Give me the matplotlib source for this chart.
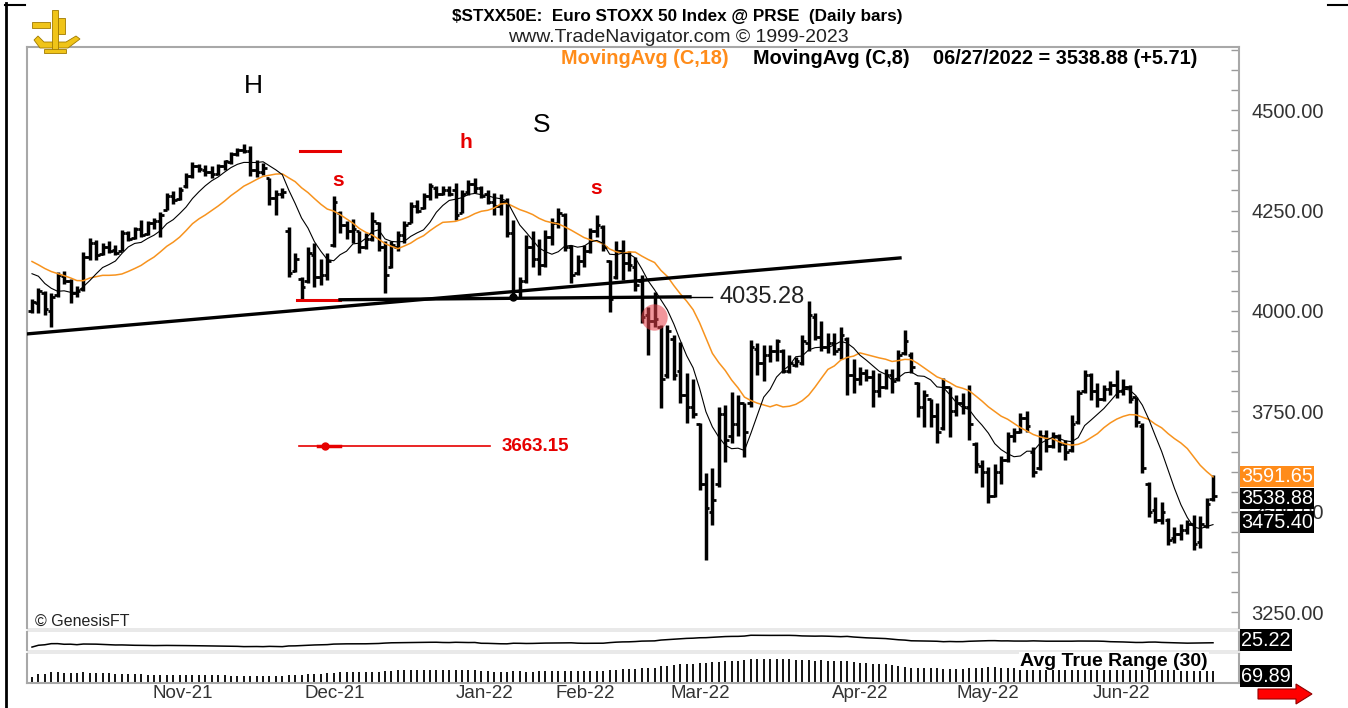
import matplotlib.pyplot as plt
import numpy as np
import pandas as pd
from matplotlib.lines import Line2D
from matplotlib.patches import Rectangle, FancyArrow, Polygon
from matplotlib.ticker import MultipleLocator, FixedLocator

plt.rcParams['font.family'] = ['Liberation Sans', 'DejaVu Sans']

# closes before the first visible bar, only used to seed the averages
warmup_close = [4200, 4170, 4170, 4180, 4170, 4145, 4170, 4140, 4050, 4080,
                4100, 4150, 4130, 4150, 4065, 4075, 4050]

opens = [4000, 4020, 4045, 4000, 4040, 4088, 4075, 4045, 4055, 4135,
         4170, 4142, 4160, 4152, 4150, 4195, 4182, 4205, 4192, 4218,
         4225, 4252, 4285, 4278, 4310, 4335, 4360, 4350, 4345, 4342,
         4360, 4370, 4390, 4400, 4398, 4350, 4345, 4330, 4280, 4290,
         4200, 4100, 4080, 4075, 4140, 4085, 4090, 4165, 4245, 4215,
         4200, 4200, 4160, 4180, 4220, 4160, 4110, 4160, 4190, 4220,
         4260, 4255, 4285, 4305, 4290, 4300, 4300, 4245, 4295, 4315,
         4305, 4290, 4270, 4262, 4270, 4195, 4050, 4075, 4160, 4130,
         4115, 4185, 4220, 4240, 4160, 4095, 4125, 4150, 4200, 4210,
         4125, 4085, 4150, 4120, 4110, 4075, 3990, 3975, 3960, 3840,
         3930, 3850, 3790, 3760, 3720, 3570, 3500, 3570, 3745, 3690,
         3720, 3770, 3770, 3905, 3870, 3890, 3900, 3900, 3850, 3865,
         3870, 3920, 3985, 3935, 3910, 3920, 3905, 3930, 3840, 3830,
         3845, 3835, 3800, 3810, 3840, 3830, 3895, 3890, 3820, 3760,
         3780, 3740, 3710, 3810, 3750, 3770, 3760, 3670, 3615, 3600,
         3540, 3600, 3630, 3690, 3700, 3735, 3650, 3610, 3690, 3665,
         3690, 3670, 3655, 3725, 3800, 3840, 3800, 3780, 3805, 3815,
         3800, 3810, 3785, 3715, 3570, 3505, 3480, 3480, 3435, 3445,
         3455, 3470, 3425, 3465, 3533]
highs = [4030, 4057, 4050, 4045, 4097, 4100, 4080, 4062, 4147, 4182,
         4177, 4170, 4175, 4165, 4201, 4200, 4210, 4226, 4225, 4232,
         4246, 4294, 4298, 4308, 4343, 4371, 4366, 4362, 4360, 4366,
         4376, 4395, 4405, 4415, 4410, 4375, 4368, 4331, 4301, 4305,
         4209, 4145, 4085, 4160, 4170, 4130, 4144, 4285, 4250, 4225,
         4230, 4200, 4195, 4246, 4222, 4175, 4175, 4200, 4225, 4270,
         4275, 4294, 4318, 4310, 4310, 4310, 4318, 4300, 4326, 4331,
         4310, 4300, 4294, 4290, 4281, 4226, 4085, 4190, 4200, 4180,
         4201, 4231, 4256, 4245, 4164, 4140, 4165, 4206, 4239, 4215,
         4127, 4175, 4177, 4150, 4135, 4090, 4010, 4047, 3965, 3965,
         3940, 3923, 3846, 3830, 3721, 3597, 3609, 3761, 3766, 3798,
         3790, 3772, 3928, 3920, 3915, 3915, 3930, 3905, 3890, 3885,
         3940, 4025, 3995, 3975, 3945, 3945, 3960, 3935, 3880, 3860,
         3855, 3853, 3846, 3855, 3855, 3903, 3953, 3898, 3823, 3803,
         3782, 3771, 3833, 3812, 3790, 3795, 3816, 3674, 3629, 3612,
         3620, 3640, 3699, 3710, 3746, 3750, 3662, 3704, 3705, 3700,
         3695, 3680, 3741, 3803, 3853, 3845, 3820, 3815, 3825, 3853,
         3830, 3815, 3786, 3721, 3575, 3537, 3525, 3485, 3463, 3470,
         3480, 3493, 3490, 3535, 3592]
lows = [3995, 3995, 3990, 3960, 4035, 4068, 4020, 4035, 4050, 4127,
        4127, 4140, 4145, 4140, 4150, 4175, 4180, 4185, 4190, 4205,
        4184, 4251, 4265, 4275, 4305, 4331, 4345, 4335, 4330, 4338,
        4351, 4365, 4385, 4392, 4335, 4333, 4338, 4264, 4239, 4280,
        4085, 4098, 4030, 4070, 4060, 4065, 4077, 4160, 4195, 4180,
        4170, 4145, 4155, 4175, 4150, 4045, 4108, 4150, 4170, 4218,
        4245, 4253, 4276, 4280, 4288, 4285, 4226, 4243, 4289, 4294,
        4280, 4265, 4239, 4240, 4184, 4030, 4032, 4070, 4110, 4090,
        4110, 4164, 4206, 4150, 4070, 4090, 4110, 4144, 4184, 4150,
        3998, 4080, 4077, 4100, 4050, 3970, 3890, 3960, 3758, 3833,
        3828, 3771, 3721, 3735, 3555, 3381, 3468, 3562, 3624, 3672,
        3690, 3637, 3761, 3841, 3825, 3873, 3875, 3846, 3845, 3860,
        3865, 3900, 3928, 3900, 3895, 3890, 3880, 3791, 3796, 3815,
        3825, 3761, 3786, 3805, 3795, 3825, 3890, 3846, 3736, 3711,
        3711, 3672, 3705, 3687, 3740, 3745, 3679, 3597, 3562, 3522,
        3538, 3570, 3625, 3675, 3697, 3700, 3587, 3605, 3650, 3660,
        3650, 3629, 3650, 3720, 3795, 3779, 3760, 3775, 3790, 3784,
        3790, 3770, 3711, 3597, 3487, 3473, 3470, 3418, 3423, 3430,
        3445, 3405, 3410, 3460, 3527]
closes = [4022, 4050, 4005, 4035, 4090, 4075, 4045, 4050, 4135, 4170,
          4140, 4160, 4150, 4145, 4195, 4180, 4205, 4190, 4218, 4225,
          4240, 4285, 4275, 4300, 4335, 4360, 4352, 4345, 4340, 4360,
          4372, 4390, 4400, 4398, 4350, 4345, 4355, 4280, 4290, 4295,
          4095, 4130, 4060, 4145, 4085, 4090, 4125, 4270, 4215, 4200,
          4205, 4160, 4180, 4225, 4160, 4090, 4165, 4190, 4215, 4260,
          4250, 4285, 4310, 4290, 4300, 4290, 4240, 4290, 4315, 4305,
          4285, 4270, 4260, 4270, 4195, 4050, 4075, 4160, 4130, 4115,
          4185, 4220, 4245, 4160, 4090, 4125, 4150, 4200, 4215, 4160,
          4030, 4150, 4120, 4115, 4065, 3985, 3975, 3980, 3830, 3950,
          3840, 3790, 3760, 3745, 3570, 3510, 3530, 3745, 3680, 3720,
          3770, 3700, 3910, 3870, 3890, 3900, 3925, 3850, 3870, 3875,
          3925, 3990, 3935, 3910, 3920, 3900, 3940, 3840, 3830, 3845,
          3835, 3800, 3810, 3840, 3825, 3890, 3925, 3860, 3760, 3790,
          3740, 3700, 3810, 3750, 3770, 3760, 3720, 3620, 3600, 3540,
          3600, 3630, 3690, 3700, 3735, 3715, 3600, 3690, 3665, 3690,
          3670, 3650, 3720, 3795, 3840, 3800, 3780, 3805, 3815, 3800,
          3810, 3780, 3725, 3610, 3500, 3480, 3500, 3430, 3445, 3455,
          3470, 3420, 3470, 3520, 3538.88]

month_labels = ['Nov-21', 'Dec-21', 'Jan-22', 'Feb-22', 'Mar-22', 'Apr-22', 'May-22', 'Jun-22']
price_ticks = [3250, 3500, 3750, 4000, 4250, 4500]

W, H = 1348, 708
n = len(closes)
x = np.arange(n)

# moving averages and ATR from the bars
c_all = pd.Series(warmup_close + closes)
ma18 = c_all.rolling(18).mean().values[len(warmup_close):]
ma8 = c_all.rolling(8).mean().values[len(warmup_close):]
hi = pd.Series(highs); lo = pd.Series(lows); cl = pd.Series(closes)
pc = cl.shift(1).fillna(cl.iloc[0])
tr = pd.concat([hi - lo, (hi - pc).abs(), (lo - pc).abs()], axis=1).max(axis=1)
atr = tr.rolling(30, min_periods=1).mean().values

# pixel helpers (pixels from top-left of the picture)
x0px, x1px = 32, 1213
sp = (x1px - x0px) / (n - 1)
def px2i(px):
    return (px - x0px) / sp

def py2p(py):
    return 4500 - (py - 110) * 250 / 100.5

def box(l, t, r, b):
    return [l / W, 1 - b / H, (r - l) / W, (b - t) / H]

def ftext(px, py, s, **kw):
    return fig.text(px / W, 1 - py / H, s, **kw)

fig = plt.figure(figsize=(W / 100, H / 100), dpi=100)
fig.patch.set_facecolor('white')

ax = fig.add_axes(box(27, 47, 1239, 628))
axl = fig.add_axes(box(27, 632, 1239, 650))
axc = fig.add_axes(box(27, 654, 1239, 683))
xlim = (px2i(27), px2i(1239))

# price bars
ax.vlines(x, lows, highs, color='black', lw=2.5, zorder=3)
ax.hlines(opens, x - 0.55, x, color='black', lw=2.0, zorder=3)
ax.hlines(closes, x, x + 0.55, color='black', lw=2.0, zorder=3)
ax.plot(x, ma18, color='#f7931e', lw=1.1, zorder=4)
ax.plot(x, ma8, color='black', lw=0.8, zorder=4)

# drawings
ax.plot([px2i(27), px2i(900)], [3943, 4132], color='black', lw=2.4, zorder=5)
ax.plot([px2i(297), px2i(340)], [4027, 4027], color='#e60000', lw=2.2, zorder=5)
ax.plot([px2i(340), px2i(690)], [4028, 4035.28], color='black', lw=2.4, zorder=5)
ax.plot([px2i(690), px2i(712)], [4035.28, 4035.28], color='black', lw=1.0, zorder=5)
ax.plot([75], [4035], 'o', color='black', ms=5, zorder=6)
ax.text(px2i(720), 4035.28, '4035.28', fontsize=17, color='#222222', va='center', ha='left')
ax.plot([px2i(654)], [3985], 'o', color='#e8404a', alpha=0.55, ms=19, mec='none', zorder=6)
ax.plot([px2i(299), px2i(490)], [3663.15, 3663.15], color='#e60000', lw=1.2, zorder=5)
ax.plot([px2i(318), px2i(340)], [3663.15, 3663.15], color='#e60000', lw=2.5, zorder=5)
ax.plot([px2i(325)], [3663.15], 'o', color='#e60000', ms=5, zorder=6)
ax.text(px2i(502), 3663.15, '3663.15', fontsize=13.5, fontweight='bold', color='#e60000',
        va='center', ha='left')
ax.plot([px2i(300), px2i(340)], [4398, 4398], color='#e60000', lw=2.2, zorder=5)
ax.text(px2i(253), py2p(86), 'H', fontsize=19, ha='center', va='center', color='black')
ax.text(px2i(542), py2p(125), 'S', fontsize=19, ha='center', va='center', color='black')
ax.text(px2i(466), py2p(143), 'h', fontsize=15, fontweight='bold',
        color='#e60000', ha='center', va='center')
ax.text(px2i(338), py2p(181), 's', fontsize=15, fontweight='bold',
        color='#e60000', ha='center', va='center')
ax.text(px2i(596), py2p(189), 's', fontsize=15, fontweight='bold',
        color='#e60000', ha='center', va='center')
ax.text(px2i(35), py2p(621), '© GenesisFT', fontsize=11.5,
        ha='left', va='center', color='#222222')

ax.set_xlim(*xlim)
ax.set_ylim(py2p(628), py2p(47))
ax.set_xticks([])
ax.yaxis.set_major_locator(FixedLocator(price_ticks))
ax.yaxis.set_minor_locator(MultipleLocator(50))
ax.set_yticklabels(['%.2f' % v for v in price_ticks])
ax.tick_params(axis='y', which='both', direction='in', length=6, width=1, color='#9a9a9a',
               left=False, right=True, labelleft=False, labelright=True, pad=9,
               labelsize=14.5, labelcolor='#333333')
for s in ['top', 'left', 'right']:
    ax.spines[s].set_color('#a8a8a8')
    ax.spines[s].set_linewidth(1.5)
ax.spines['bottom'].set_visible(False)

# line panel
axl.plot(x, atr, color='black', lw=1.1)
axl.set_xlim(*xlim)
axl.set_ylim(13, 148)
axl.set_xticks([]); axl.set_yticks([])
for s in ['top', 'bottom']:
    axl.spines[s].set_visible(False)
for s in ['left', 'right']:
    axl.spines[s].set_color('#a8a8a8'); axl.spines[s].set_linewidth(1.5)

# ATR comb panel
axc.vlines(x, 0, atr, color='black', lw=1.3)
axc.set_xlim(*xlim)
axc.set_ylim(5, 150)
axc.set_yticks([])
axc.set_xticks([])
axc.spines['top'].set_visible(False)
for s in ['left', 'right', 'bottom']:
    axc.spines[s].set_color('#a8a8a8'); axc.spines[s].set_linewidth(1.5)
ftext(1208, 661, 'Avg True Range (30)', fontsize=14, fontweight='bold', ha='right', va='center',
      bbox=dict(boxstyle='square,pad=0.05', fc='white', ec='none'))

# separator bands
for t, b in [(628, 632), (650, 654)]:
    fig.add_artist(Rectangle((27 / W, 1 - b / H), 1212 / W, (b - t) / H,
                             transform=fig.transFigure, color='#e9e9e9', zorder=0))

# month labels
month_px = [183, 335, 485, 585, 700, 860, 988, 1122]
for lab, p in zip(month_labels, month_px):
    ftext(p, 694, lab, fontsize=13.5, ha='center', va='center', color='#333333')

# header
ftext(677, 17, '$STXX50E:  Euro STOXX 50 Index @ PRSE  (Daily bars)', fontsize=12.3,
      fontweight='bold', ha='center', va='center')
ftext(678, 38, 'www.TradeNavigator.com © 1999-2023', fontsize=14, ha='center', va='center',
      color='#222222')
ftext(561, 58, 'MovingAvg (C,18)', fontsize=14.3, fontweight='bold', color='#ff8c1a',
      ha='left', va='center')
ftext(753, 58, 'MovingAvg (C,8)', fontsize=14.3, fontweight='bold', ha='left', va='center')
ftext(933, 58, '06/27/2022 = 3538.88 (+5.71)', fontsize=14.3, fontweight='bold',
      ha='left', va='center')

# value boxes on the right
for py, s, fc in [(476.5, '3591.65', '#ff8c1a'), (498.5, '3538.88', 'black'),
                  (522, '3475.40', 'black'), (640, '25.22', 'black'), (676, '69.89', 'black')]:
    ftext(1241, py, s, fontsize=14.3, color='white', ha='left', va='center',
          bbox=dict(boxstyle='square,pad=0.06', fc=fc, ec='none'))

# red arrow
fig.add_artist(FancyArrow(1258 / W, 1 - 694 / H, 38 / W, 0, width=10 / H, head_width=20 / H,
                          head_length=16 / W, length_includes_head=False,
                          transform=fig.transFigure, color='#ff0000', ec='#900000', lw=0.8))

# frame lines of the screenshot
fig.add_artist(Line2D([5.5 / W, 5.5 / W], [0, 1 - 3 / H], color='black', lw=2))
fig.add_artist(Line2D([5 / W, 25 / W], [1 - 4.5 / H, 1 - 4.5 / H], color='black', lw=1.5))
fig.add_artist(Line2D([1328 / W, 1348 / W], [1 - 4.5 / H, 1 - 4.5 / H], color='black', lw=1.5))

# logo
axg = fig.add_axes(box(28, 6, 84, 54))
axg.set_xlim(0, 56); axg.set_ylim(48, 0); axg.axis('off')
gold, dark = '#f0c419', '#a07a00'
axg.add_patch(Polygon([[6, 34], [12, 42], [40, 42], [52, 33], [48, 30], [38, 36], [16, 36], [10, 30]],
                      closed=True, fc=gold, ec=dark, lw=0.6))
axg.add_patch(Rectangle((24, 4), 6, 42, fc=gold, ec=dark, lw=0.6))
axg.add_patch(Rectangle((4, 16), 18, 6, fc=gold, ec=dark, lw=0.6))
axg.add_patch(Rectangle((30, 12), 7, 16, fc=gold, ec=dark, lw=0.6))
axg.add_patch(Rectangle((16, 43), 22, 4, fc=gold, ec=dark, lw=0.6))

fig.savefig('out.png', dpi=100)
